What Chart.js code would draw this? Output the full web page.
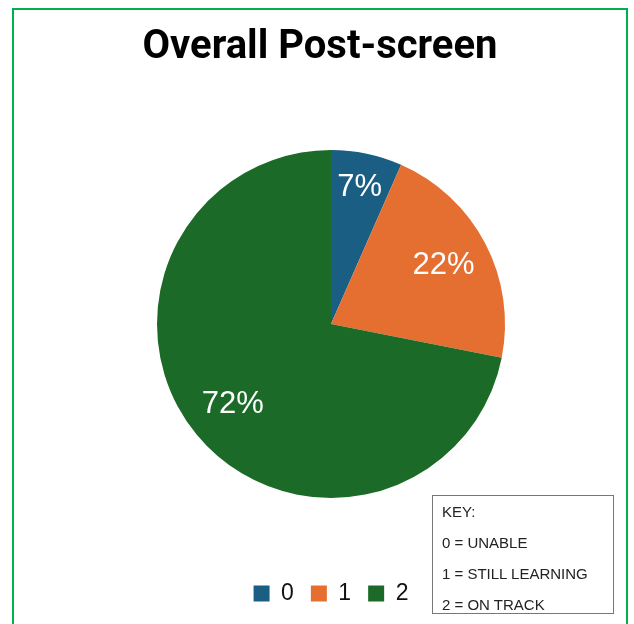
<!DOCTYPE html>
<html>
<head>
<meta charset="utf-8">
<script src="https://cdn.jsdelivr.net/npm/chart.js@4"></script>
<style>
  html, body { margin: 0; padding: 0; background: #fff; }
  #wrap { position: relative; width: 634px; height: 624px; overflow: hidden; }
  #frame { position: absolute; left: 12px; top: 8px; width: 616px; height: 640px; border: 2px solid #00b050; box-sizing: border-box; }
  #chart { position: absolute; left: 0; top: 0; }
  #title { position: absolute; left: 0; top: 20px; width: 640px; text-align: center; font-family: Roboto, "Liberation Sans", sans-serif;
           font-weight: bold; font-size: 40px; line-height: 50px; color: #000; }
  #key { position: absolute; left: 432px; top: 495px; width: 182px; height: 119px; border: 1px solid #777; box-sizing: border-box;
         font-family: "Liberation Sans", Arial, sans-serif; font-size: 15px; color: #222; padding: 0 0 0 9px; line-height: 31px; }
</style>
</head>
<body>
<div id="wrap">
  <div id="frame"></div>
  <canvas id="chart" width="634" height="624"></canvas>
  <div id="title">Overall Post-screen</div>
  <div id="key">KEY:<br>0 = UNABLE<br>1 = STILL LEARNING<br>2 = ON TRACK</div>
</div>
<script>
// Data
const categories = ["0", "1", "2"];
const shares = [6.6, 21.5, 71.9];
const colors = ["#1a5e83", "#e56f31", "#1b6a27"];

// Label persen di tengah tiap irisan
const sliceLabels = {
    id: "sliceLabels",
    afterDatasetsDraw(chart) {
        const ctx = chart.ctx;
        const meta = chart.getDatasetMeta(0);
        const total = shares.reduce((a, b) => a + b, 0);
        ctx.save();
        ctx.fillStyle = "#fff";
        ctx.font = "31px 'Liberation Sans', Arial, sans-serif";
        ctx.textAlign = "center";
        ctx.textBaseline = "middle";
        meta.data.forEach((arc, i) => {
            const mid = (arc.startAngle + arc.endAngle) / 2;
            const r = arc.outerRadius * (i === 0 ? 0.8 : 0.73);
            const x = arc.x + Math.cos(mid) * r;
            const y = arc.y + Math.sin(mid) * r;
            ctx.fillText(Math.round(shares[i] / total * 100) + "%", x, y);
        });
        ctx.restore();
    }
};

new Chart(document.getElementById("chart"), {
    type: "pie",
    data: {
        labels: categories,
        datasets: [{
            data: shares,
            backgroundColor: colors,
            borderWidth: 0,
        }],
    },
    options: {
        responsive: false,
        animation: false,
        layout: { padding: { top: 83, bottom: 9, left: 157, right: 129 } },
        plugins: {
            title: { display: false },
            legend: {
                position: "bottom",
                labels: {
                    color: "#111",
                    boxWidth: 16,
                    boxHeight: 16,
                    font: { family: "'Liberation Sans', Arial, sans-serif", size: 23 },
                    padding: 17,
                },
            },
            tooltip: { enabled: false },
        },
    },
    plugins: [sliceLabels],
});
</script>
</body>
</html>
